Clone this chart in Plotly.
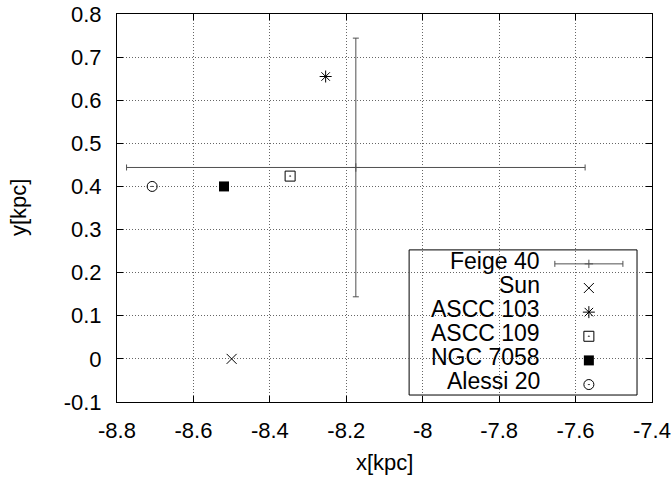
import plotly.graph_objects as go

# Positions in the Galactic plane (kpc)
names = ["Feige 40", "Sun", "ASCC 103", "ASCC 109", "NGC 7058", "Alessi 20"]
x_kpc = [-8.175, -8.5, -8.254, -8.347, -8.52, -8.708]
y_kpc = [0.444, 0.0, 0.655, 0.424, 0.40, 0.40]

# Uncertainty for Feige 40 (kpc)
feige_x_err = [0.6]
feige_y_err = [0.3]

# Tick values and labels
x_ticks = [-8.8, -8.6, -8.4, -8.2, -8.0, -7.8, -7.6, -7.4]
x_tick_text = ["-8.8", "-8.6", "-8.4", "-8.2", "-8", "-7.8", "-7.6", "-7.4"]
y_ticks = [-0.1, 0.0, 0.1, 0.2, 0.3, 0.4, 0.5, 0.6, 0.7, 0.8]
y_tick_text = ["-0.1", "0", "0.1", "0.2", "0.3", "0.4", "0.5", "0.6", "0.7", "0.8"]

FONT = "Liberation Sans, Arial, Helvetica, sans-serif"
FS = 22
INK = "black"
BAR = "#505050"

symbols = {
    "Sun": dict(symbol="x-thin-open", size=10, color=INK, line=dict(width=1, color=INK)),
    "ASCC 103": dict(symbol="asterisk-open", size=10, color=INK, line=dict(width=1, color=INK)),
    "ASCC 109": dict(symbol="square-open-dot", size=10, color=INK, line=dict(width=1, color=INK)),
    "NGC 7058": dict(symbol="square", size=10, color=INK, line=dict(width=0)),
    "Alessi 20": dict(symbol="circle-open-dot", size=10, color=INK, line=dict(width=1, color=INK)),
}
feige_marker = dict(symbol="cross-thin-open", size=6, color=BAR, line=dict(width=1, color=BAR))

fig = go.Figure()

# Feige 40 with error bars
fig.add_trace(go.Scatter(
    x=[x_kpc[0]], y=[y_kpc[0]], mode="markers", marker=feige_marker,
    error_x=dict(type="data", array=feige_x_err, symmetric=True, color=BAR, thickness=1, width=3),
    error_y=dict(type="data", array=feige_y_err, symmetric=True, color=BAR, thickness=1, width=3),
    showlegend=False, name=names[0],
))

# Other objects
for nm, xv, yv in zip(names[1:], x_kpc[1:], y_kpc[1:]):
    fig.add_trace(go.Scatter(x=[xv], y=[yv], mode="markers", marker=symbols[nm],
                             showlegend=False, name=nm))

# Key drawn inside the plot area (overlay axes span the plot area 0..1)
key_left, key_right = 0.546, 0.972
key_bottom, key_top = 0.018, 0.392
row0 = 0.364
row_step = 0.0622
sample_x = 0.882
text_x = 0.795

fig.add_shape(type="rect", xref="paper", yref="paper",
              x0=key_left, x1=key_right, y0=key_bottom, y1=key_top,
              line=dict(color=INK, width=1), fillcolor="white", layer="between")

for i, nm in enumerate(names):
    ry = row0 - i * row_step
    fig.add_annotation(x=text_x, y=ry, xref="paper", yref="paper", text=nm,
                       showarrow=False, xanchor="right", yanchor="middle",
                       font=dict(family=FONT, size=FS + 1, color=INK))
    sy = ry - 0.008
    if i == 0:
        fig.add_trace(go.Scatter(
            x=[sample_x], y=[sy], xaxis="x2", yaxis="y2", mode="markers",
            marker=feige_marker,
            error_x=dict(type="data", array=[0.0636], symmetric=True, color=BAR, thickness=1, width=3),
            showlegend=False, hoverinfo="skip"))
    else:
        fig.add_trace(go.Scatter(x=[sample_x], y=[sy], xaxis="x2", yaxis="y2",
                                 mode="markers", marker=symbols[nm],
                                 showlegend=False, hoverinfo="skip"))

# Axis titles
fig.add_annotation(x=0.5, y=-0.155, xref="paper", yref="paper", text="x[kpc]",
                   showarrow=False, xanchor="center", yanchor="middle",
                   font=dict(family=FONT, size=FS, color=INK))
fig.add_annotation(x=-0.185, y=0.5, xref="paper", yref="paper", text="y[kpc]",
                   showarrow=False, xanchor="center", yanchor="middle", textangle=-90,
                   font=dict(family=FONT, size=FS, color=INK))

axis_common = dict(
    showline=True, linecolor=INK, linewidth=1, mirror="allticks",
    ticks="inside", ticklen=6, tickwidth=1, tickcolor=INK,
    showgrid=True, gridcolor="#666666", gridwidth=1, griddash="1px,2px",
    zeroline=False, automargin=False,
    tickfont=dict(family=FONT, size=FS, color=INK),
)

fig.update_layout(
    width=672, height=477,
    margin=dict(l=117, r=20, t=14, b=75),
    paper_bgcolor="white", plot_bgcolor="white",
    font=dict(family=FONT, size=FS, color=INK),
    xaxis=dict(range=[-8.8, -7.4], tickvals=x_ticks, ticktext=x_tick_text,
               ticklabelstandoff=9, **axis_common),
    yaxis=dict(range=[-0.1, 0.8], tickvals=y_ticks, ticktext=y_tick_text,
               ticklabelstandoff=10, **axis_common),
    xaxis2=dict(range=[0, 1], overlaying="x", visible=False, fixedrange=True),
    yaxis2=dict(range=[0, 1], overlaying="y", visible=False, fixedrange=True),
    showlegend=False,
)

fig.write_html("out.html")
